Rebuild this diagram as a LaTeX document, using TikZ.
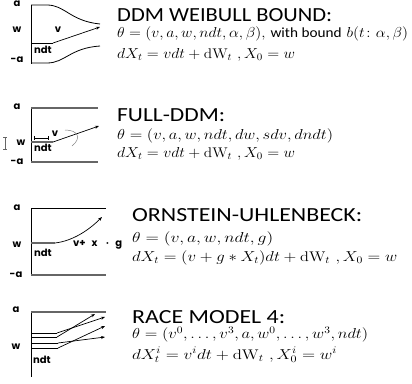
\documentclass[tikz,border=0pt]{standalone}
\usepackage{amsmath}
\usepackage{graphicx}
\usepackage{fontspec}
\usetikzlibrary{arrows.meta}
\newfontfamily\titlefont{Carlito}
\newfontfamily\lblfont{Poppins}
% stretch a line of text to a given width, keeping its height
\newcommand{\fitw}[2]{\resizebox{#1}{\height}{#2}}

\begin{document}
\begin{tikzpicture}[
    x=1pt, y=-1pt,
    lbl/.style={font=\lblfont\bfseries\fontsize{10}{10}\selectfont, inner sep=0pt},
    title/.style={anchor=west, inner sep=0pt, font=\titlefont\fontsize{20}{22}\selectfont},
    eq/.style={anchor=west, inner sep=0pt, font=\fontsize{14}{15}\selectfont},
    axis/.style={draw=black, line width=0.8pt},
    bound/.style={draw=black!60, line width=1.1pt},
    arrow/.style={-{Stealth[length=4pt, width=3pt]}, line width=0.7pt}
]
\useasboundingbox (0,0) rectangle (412,383);

% Panel 1: DDM Weibull bound
\node[lbl] (a1) at (17,4) {a};
\node[lbl] (w1) at (17,30) {w};
\node[lbl] (ma1) at (17,60) {-a};
\node[lbl] (v1) at (58,30) {v};
\node[lbl] (ndt1) at (43,50) {ndt};
\draw[axis] (31,5) -- (31,64);
\draw[axis] (31,5) -- (47,5) .. controls (65,5) and (70,21) .. (100,24);
\draw[axis] (31,63) -- (47,63) .. controls (65,63) and (70,48) .. (100,46);
\coordinate (s1) at (53,43);
\coordinate (e1) at (100,27);
\draw[axis] (31,43) -- (s1);
\draw[arrow] (s1) -- (e1);
\node[title] (t1) at (117,15) {\fitw{215pt}{DDM WEIBULL BOUND:}};
\node[eq] (q1a) at (117,34) {\fitw{291pt}{$\theta = (v, a, w, ndt, \alpha, \beta)$, {\titlefont with bound} $b(t\colon \alpha, \beta)$}};
\node[eq] (q1b) at (117,55) {\fitw{178pt}{$dX_t = vdt + \mathrm{dW}_t\ ,X_0 = w$}};

% Panel 2: Full DDM
\node[lbl] (a2) at (17,107) {a};
\node[lbl] (w2) at (21,143) {w};
\node[lbl] (ma2) at (17,162) {-a};
\node[lbl] (v2) at (55,134) {v};
\node[lbl] (ndt2) at (43,148) {ndt};
\draw[black!60, line width=0.7pt] (3,137) -- (7,137) (5,137) -- (5,149) (3,149) -- (7,149);
\draw[axis] (31,108) -- (31,162);
\draw[bound] (31,108) -- (98,108);
\draw[bound] (31,162) -- (98,162);
\coordinate (s2) at (53,142);
\coordinate (e2) at (99,126);
\draw[bound] (31,142) -- (s2);
\draw[line width=0.6pt] (34,136) -- (34,140) (34,138) -- (48,138) (48,136) -- (48,140);
\draw[arrow] (s2) -- (e2);
\draw[black!50, line width=0.5pt] (65,130) .. controls (78,130) and (82,138) .. (72,146);
\node[title] (t2) at (117,115) {\fitw{108pt}{FULL-DDM:}};
\node[eq] (q2a) at (117,136) {\fitw{216pt}{$\theta = (v, a, w, ndt, dw, sdv, dndt)$}};
\node[eq] (q2b) at (117,154) {\fitw{178pt}{$dX_t = vdt + \mathrm{dW}_t\ ,X_0 = w$}};

% Panel 3: Ornstein-Uhlenbeck
\node[lbl] (a3) at (17,208) {a};
\node[lbl] (w3) at (17,245) {w};
\node[lbl] (ma3) at (16,275) {-a};
\node[lbl] (ndt3) at (43,253) {ndt};
\node[lbl, anchor=west] (vg3) at (73,245) {v+\hspace{6pt}x\hspace{8pt}{\fontsize{13}{13}\selectfont$\boldsymbol{\cdot}$}\hspace{6pt}g};
\draw[axis] (31,208) -- (31,275);
\draw[axis] (31,208) -- (106,208);
\draw[bound] (31,275) -- (106,275);
\coordinate (s3) at (55,243);
\coordinate (e3) at (102,217);
\draw[bound] (31,243) -- (s3);
\draw[arrow] (s3) .. controls (72,241) and (88,231) .. (e3);
\node[title] (t3) at (132,215) {\fitw{230pt}{ORNSTEIN-UHLENBECK:}};
\node[eq] (q3a) at (132,239) {\fitw{141pt}{$\theta = (v, a, w, ndt, g)$}};
\node[eq] (q3b) at (132,258) {\fitw{265pt}{$dX_t = (v + g * X_t)dt + \mathrm{dW}_t\ ,X_0 = w$}};

% Panel 4: Race model
\node[lbl] (a4) at (16,310) {a};
\node[lbl] (w4) at (16,347) {w};
\node[lbl] (ndt4) at (42,360) {ndt};
\draw[axis] (31,312) -- (31,377);
\draw[bound] (31,312) -- (106,312);
\foreach \i/\y/\xs/\xe/\ye in {0/333/57/105/317, 1/337/57/95/314, 2/343/58/105/337, 3/348/58/105/326} {
  \coordinate (s4\i) at (\xs,\y);
  \coordinate (e4\i) at (\xe,\ye);
  \draw[axis] (31,\y) -- (s4\i);
  \draw[arrow] (s4\i) -- (e4\i);
}
\node[title] (t4) at (132,317) {\fitw{153pt}{RACE MODEL 4:}};
\node[eq, anchor=base west] (q4a) at (132,338.5) {\fitw{236pt}{$\theta = (v^0, \ldots, v^3, a, w^0, \ldots, w^3, ndt)$}};
\node[eq, anchor=base west] (q4b) at (132,359) {\fitw{205pt}{$dX_t^i = v^i dt + \mathrm{dW}_t\ ,X_0^i = w^i$}};

\end{tikzpicture}
\end{document}
